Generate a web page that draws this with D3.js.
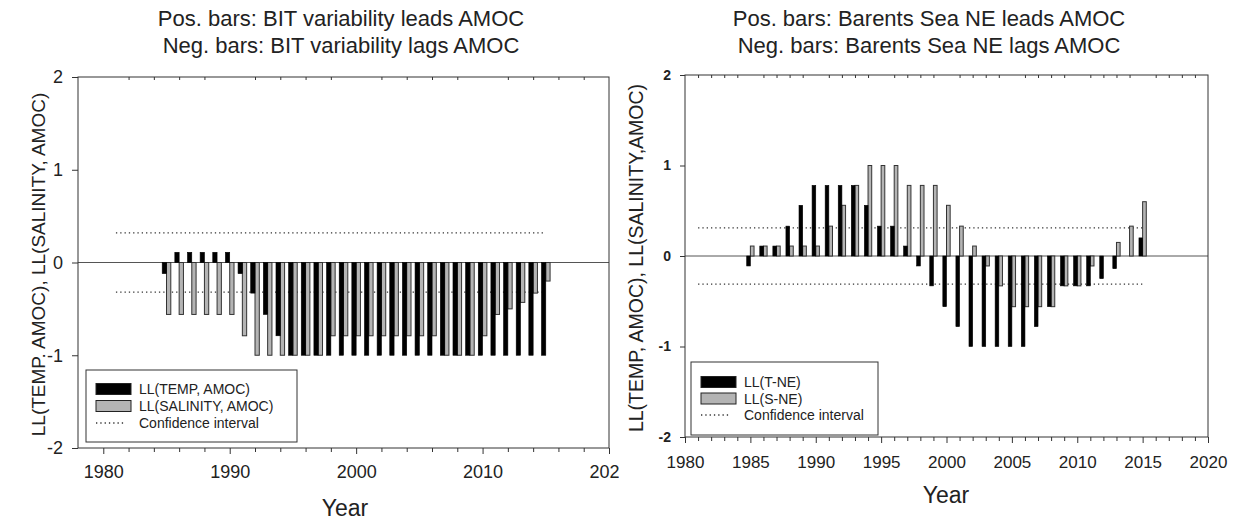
<!DOCTYPE html>
<html>
<head>
<meta charset="utf-8">
<script src="https://cdn.jsdelivr.net/npm/d3@7"></script>
<style>
  body { margin: 0; background: #fff; }
  text { font-family: "Liberation Sans", Arial, sans-serif; fill: #222; }
</style>
</head>
<body>
<script>
// years shared by both panels
const years = [1985, 1986, 1987, 1988, 1989, 1990, 1991, 1992, 1993, 1994,
  1995, 1996, 1997, 1998, 1999, 2000, 2001, 2002, 2003, 2004,
  2005, 2006, 2007, 2008, 2009, 2010, 2011, 2012, 2013, 2014, 2015];

// left panel: BIT variability vs AMOC
const bitTemp = [-0.12, 0.11, 0.11, 0.11, 0.11, 0.11, -0.12, -0.33, -0.56, -0.79,
  -1, -1, -1, -1, -1, -1, -1, -1, -1, -1,
  -1, -1, -1, -1, -1, -1, -1, -1, -1, -1, -1];
const bitSal = [-0.56, -0.56, -0.56, -0.56, -0.56, -0.56, -0.79, -1, -1, -1,
  -1, -1, -1, -0.79, -0.79, -0.79, -0.79, -0.79, -0.79, -0.79,
  -0.79, -0.79, -1, -1, -1, -0.79, -0.56, -0.5, -0.43, -0.33, -0.2];
const bitConf = [0.32, -0.32];

// right panel: Barents Sea NE vs AMOC
const neTemp = [-0.11, 0.11, 0.11, 0.33, 0.56, 0.78, 0.78, 0.78, 0.78, 0.56,
  0.33, 0.33, 0.11, -0.11, -0.33, -0.56, -0.78, -1, -1, -1,
  -1, -1, -0.78, -0.56, -0.33, -0.33, -0.33, -0.25, -0.14, 0, 0.2];
const neSal = [0.11, 0.11, 0.11, 0.11, 0.11, 0.11, 0.33, 0.56, 0.78, 1,
  1, 1, 0.78, 0.78, 0.78, 0.56, 0.33, 0.11, -0.11, -0.33,
  -0.56, -0.56, -0.56, -0.56, -0.33, -0.33, -0.11, 0, 0.15, 0.33, 0.6];
const neConf = [0.31, -0.31];
const confYears = [1981, 2015];

const yTicks = [-2, -1, 0, 1, 2];
const bitXTicks = [1980, 1990, 2000, 2010, 2020];
const neXTicks = [1980, 1985, 1990, 1995, 2000, 2005, 2010, 2015, 2020];

const greyFill = '#b4b4b4';

const svg = d3.select('body').append('svg')
  .attr('width', 1233)
  .attr('height', 520);

svg.append('defs').append('clipPath')
  .attr('id', 'clipLeft')
  .append('rect')
  .attr('x', 0).attr('y', 0).attr('width', 619).attr('height', 520);

function drawPanel(o) {
  const g = svg.append('g').attr('clip-path', o.clip || null);

  const x = d3.scaleLinear().domain(o.xDomain).range([o.left, o.right]);
  const y = d3.scaleLinear().domain([-2, 2]).range([o.bottom, o.top]);

  // titles
  g.selectAll('.title')
    .data(o.title)
    .enter().append('text')
      .attr('x', o.titleX)
      .attr('y', (d, i) => 26 + i * 27)
      .attr('text-anchor', 'middle')
      .style('font-size', '22px')
      .text(d => d);

  // zero line
  g.append('line')
    .attr('x1', x(o.xDomain[0])).attr('x2', x(o.xDomain[1]))
    .attr('y1', y(0)).attr('y2', y(0))
    .attr('stroke', '#555').attr('stroke-width', 1);

  // confidence interval
  g.selectAll('.conf')
    .data(o.conf)
    .enter().append('line')
      .attr('x1', x(confYears[0])).attr('x2', x(confYears[1]))
      .attr('y1', d => y(d)).attr('y2', d => y(d))
      .attr('stroke', '#333')
      .attr('stroke-width', 1.3)
      .attr('stroke-dasharray', '1.3,3');

  const rows = years.map((yr, i) => ({ yr: yr, t: o.temp[i], s: o.sal[i] }));

  // salinity bars (grey), right of the year
  g.append('g').selectAll('rect')
    .data(rows.filter(d => d.s !== 0))
    .enter().append('rect')
      .attr('x', d => x(d.yr))
      .attr('width', d => x(d.yr + o.bw) - x(d.yr))
      .attr('y', d => y(Math.max(0, d.s)))
      .attr('height', d => Math.abs(y(d.s) - y(0)))
      .style('fill', greyFill)
      .style('stroke', '#333')
      .style('stroke-width', 1);

  // temperature bars (black), left of the year
  g.append('g').selectAll('rect')
    .data(rows.filter(d => d.t !== 0))
    .enter().append('rect')
      .attr('x', d => x(d.yr - o.bw))
      .attr('width', d => x(d.yr) - x(d.yr - o.bw))
      .attr('y', d => y(Math.max(0, d.t)))
      .attr('height', d => Math.abs(y(d.t) - y(0)))
      .style('fill', '#000')
      .style('stroke', '#000')
      .style('stroke-width', 0.6);

  // frame
  g.append('rect')
    .attr('x', o.left).attr('y', o.top)
    .attr('width', o.right - o.left).attr('height', o.bottom - o.top)
    .style('fill', 'none')
    .style('stroke', '#333');

  // bottom axis
  const bottom = g.append('g')
    .attr('transform', `translate(0,${o.bottom})`)
    .call(d3.axisBottom(x).tickValues(o.xTicks).tickFormat(d => String(d))
      .tickSize(6).tickPadding(o.xPad).tickSizeOuter(0));
  bottom.select('.domain').remove();
  bottom.selectAll('text')
    .style('font-size', o.xFont)
    .style('font-family', '"Liberation Sans", Arial, sans-serif');
  bottom.selectAll('line').attr('stroke', '#333');

  const minor = d3.range(o.xDomain[0], o.xDomain[1] + 1, o.minorStep)
    .filter(v => o.xTicks.indexOf(v) < 0 && v > o.xDomain[0]);
  g.append('g')
    .attr('transform', `translate(0,${o.bottom})`)
    .call(d3.axisBottom(x).tickValues(minor).tickFormat('').tickSize(4).tickSizeOuter(0))
    .call(a => a.select('.domain').remove())
    .selectAll('line').attr('stroke', '#333');

  // small inward ticks on the top frame
  g.append('g')
    .attr('transform', `translate(0,${o.top})`)
    .call(d3.axisTop(x).tickValues(minor).tickFormat('').tickSize(-3).tickSizeOuter(0))
    .call(a => a.select('.domain').remove())
    .selectAll('line').attr('stroke', '#333');

  // left axis (plain hyphen for negatives, as in the original)
  const left = g.append('g')
    .attr('transform', `translate(${o.left},0)`)
    .call(d3.axisLeft(y).tickValues(yTicks).tickFormat(d => String(d))
      .tickSize(o.yTick).tickPadding(9).tickSizeOuter(0));
  left.select('.domain').remove();
  left.selectAll('line').attr('stroke', '#333');
  left.selectAll('text')
    .style('font-size', o.yFont)
    .style('font-weight', o.yWeight)
    .style('font-family', '"Liberation Sans", Arial, sans-serif');

  // axis titles
  g.append('text')
    .attr('transform', `translate(${o.yLabelX},${(o.top + o.bottom) / 2 + 2}) rotate(-90)`)
    .attr('text-anchor', 'middle')
    .attr('dominant-baseline', 'central')
    .style('font-size', o.yLabelFont)
    .text(o.yLabel);

  g.append('text')
    .attr('x', o.yearX).attr('y', o.yearY)
    .attr('text-anchor', 'middle')
    .style('font-size', '23px')
    .text('Year');

  // legend
  const L = o.legend;
  g.append('rect')
    .attr('x', L.x).attr('y', L.y).attr('width', L.w).attr('height', L.h)
    .style('fill', '#fff').style('stroke', '#333');

  const items = [
    { label: o.labels[0], fill: '#000' },
    { label: o.labels[1], fill: greyFill },
    { label: 'Confidence interval', fill: null }
  ];
  items.forEach((it, i) => {
    const cy = L.y + L.first + i * L.step;
    if (it.fill) {
      g.append('rect')
        .attr('x', L.x + 10).attr('y', cy - 5.5)
        .attr('width', 35).attr('height', 11)
        .style('fill', it.fill).style('stroke', '#222');
    } else {
      g.append('line')
        .attr('x1', L.x + 10).attr('x2', L.x + 40)
        .attr('y1', cy).attr('y2', cy)
        .attr('stroke', '#333').attr('stroke-width', 1.3)
        .attr('stroke-dasharray', '1.3,3');
    }
    g.append('text')
      .attr('x', L.x + 53).attr('y', cy)
      .attr('dominant-baseline', 'central')
      .style('font-size', '14px')
      .text(it.label);
  });
}

drawPanel({
  clip: 'url(#clipLeft)',
  left: 78, right: 609, top: 77, bottom: 448,
  xDomain: [1978, 2020], xTicks: bitXTicks, minorStep: 2,
  xPad: 11, xFont: '18px',
  yTick: 6, yFont: '18px', yWeight: 'normal',
  bw: 0.34,
  temp: bitTemp, sal: bitSal, conf: bitConf,
  title: ['Pos. bars: BIT variability leads AMOC', 'Neg. bars: BIT variability lags AMOC'],
  titleX: 341,
  yLabel: 'LL(TEMP. AMOC), LL(SALINITY, AMOC)', yLabelX: 38, yLabelFont: '19px',
  yearX: 345, yearY: 516,
  labels: ['LL(TEMP, AMOC)', 'LL(SALINITY, AMOC)'],
  legend: { x: 86, y: 370, w: 211, h: 72, first: 19, step: 17 }
});

drawPanel({
  clip: null,
  left: 685, right: 1208, top: 75, bottom: 437,
  xDomain: [1980, 2020], xTicks: neXTicks, minorStep: 1,
  xPad: 13, xFont: '17px',
  yTick: 5, yFont: '14px', yWeight: 'bold',
  bw: 0.28,
  temp: neTemp, sal: neSal, conf: neConf,
  title: ['Pos. bars: Barents Sea NE leads AMOC', 'Neg. bars: Barents Sea NE lags AMOC'],
  titleX: 929,
  yLabel: 'LL(TEMP, AMOC), LL(SALINITY,AMOC)', yLabelX: 636, yLabelFont: '19.5px',
  yearX: 946, yearY: 503,
  labels: ['LL(T-NE)', 'LL(S-NE)'],
  legend: { x: 691, y: 362, w: 187, h: 73, first: 20, step: 16.5 }
});
</script>
</body>
</html>
